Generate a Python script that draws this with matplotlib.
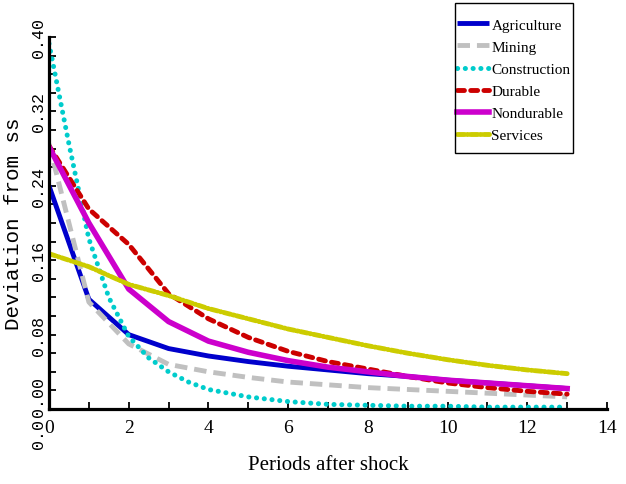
import matplotlib
matplotlib.use("Agg")
import matplotlib.pyplot as plt
import matplotlib.transforms as mtransforms
from matplotlib.patches import Rectangle
import numpy as np

plt.rcParams["lines.scale_dashes"] = False

# periods after the shock
periods = [0, 1, 2, 3, 4, 5, 6, 7, 8, 9, 10, 11, 12, 13]

agriculture = [0.240, 0.118, 0.080, 0.065, 0.057, 0.051, 0.046, 0.042, 0.038, 0.035, 0.031, 0.028, 0.025, 0.022]
mining      = [0.285, 0.115, 0.070, 0.048, 0.040, 0.034, 0.029, 0.026, 0.023, 0.021, 0.019, 0.017, 0.015, 0.013]
durable     = [0.283, 0.215, 0.177, 0.124, 0.097, 0.077, 0.062, 0.051, 0.043, 0.035, 0.028, 0.023, 0.019, 0.016]
nondurable  = [0.282, 0.200, 0.129, 0.094, 0.073, 0.061, 0.052, 0.045, 0.040, 0.035, 0.031, 0.028, 0.025, 0.022]
services    = [0.167, 0.153, 0.134, 0.122, 0.108, 0.097, 0.086, 0.077, 0.068, 0.060, 0.053, 0.047, 0.042, 0.038]

# construction read at a finer step (curve is smooth near the start)
constr_periods = [0, 0.5, 1, 1.5, 2, 2.5, 3, 3.5, 4, 5, 6, 7, 8, 9, 10, 11, 12, 13]
construction   = [0.393, 0.285, 0.183, 0.120, 0.078, 0.055, 0.040, 0.029, 0.021, 0.013, 0.008, 0.005, 0.004, 0.003, 0.003, 0.002, 0.002, 0.002]

names = ["Agriculture", "Mining", "Construction", "Durable", "Nondurable", "Services"]

serif = "Liberation Serif"
mono = "Liberation Mono"

fig = plt.figure(figsize=(6.26, 4.85), dpi=100)
ax = fig.add_axes([49/626, 1-410/485, 558/626, 372/485])

ax.plot(periods, agriculture, color="#0000CC", lw=3.5, solid_capstyle="butt", label=names[0])
l, = ax.plot(periods, mining, color="#C0C0C0", lw=3.5, label=names[1], dash_capstyle="butt")
l.set_dashes([9, 5])
l, = ax.plot(constr_periods, construction, color="#00CCCC", lw=3.6, label=names[2], dash_capstyle="round")
l.set_dashes([0.1, 5.5])
l, = ax.plot(periods, durable, color="#CC0000", lw=3.5, label=names[3], dash_capstyle="round")
l.set_dashes([5, 4.5])
ax.plot(periods, nondurable, color="#CC00CC", lw=4, label=names[4])
l, = ax.plot(periods, services, color="#CCCC00", lw=3.5, label=names[5], dash_capstyle="round")
l.set_dashes([5, 2.0, 0.5, 2.0])

ax.set_xlim(0, 14)
ax.set_ylim(0, 0.40)
ax.spines["top"].set_visible(False)
ax.spines["right"].set_visible(False)
ax.spines["left"].set_linewidth(2.3)
ax.spines["bottom"].set_linewidth(2.3)

ax.set_xticks(np.arange(0, 15, 2))
ax.set_xticks(np.arange(1, 14, 2), minor=True)
ax.set_yticks([0.08, 0.16, 0.24, 0.32, 0.40])
ax.set_yticks(np.arange(0, 0.41, 0.02), minor=True)
ax.tick_params(which="both", direction="in", length=5, width=1.3)
ax.tick_params(axis="x", labelsize=14, pad=7)
for t in ax.get_xticklabels():
    t.set_fontfamily(serif)
ax.set_yticklabels(["0.08", "0.16", "0.24", "0.32", "0.40"], rotation=90,
                   family=mono, fontsize=12, va="center")
ax.tick_params(axis="y", pad=2)

# odd extra labels at the bottom of the y axis
tr = mtransforms.blended_transform_factory(ax.transAxes, ax.transData)
ax.text(-3/558, 0.014, "0.00", transform=tr, rotation=90, ha="right", va="center",
        family=mono, fontsize=12, clip_on=False)
ax.text(-3/558, -0.026, "0.0", transform=tr, rotation=90, ha="right", va="center",
        family=mono, fontsize=12, clip_on=False)

ax.set_xlabel("Periods after shock", family=serif, fontsize=15, labelpad=14)
ax.set_ylabel("Deviation from ss", family=mono, fontsize=15, labelpad=6)

# legend box drawn separately so its padding matches
fig.patches.append(Rectangle((455/626, 1-154/485), 118/626, 150/485, fill=False,
                             ec="black", lw=1.0, transform=fig.transFigure))
leg = ax.legend(loc="upper left", bbox_to_anchor=(457/626, 1-19/485), bbox_transform=fig.transFigure,
                borderaxespad=0, frameon=False, handlelength=2.1, handletextpad=0.15,
                labelspacing=0.55, borderpad=0, prop={"family": serif, "size": 11})

fig.savefig("out.png", dpi=100)
